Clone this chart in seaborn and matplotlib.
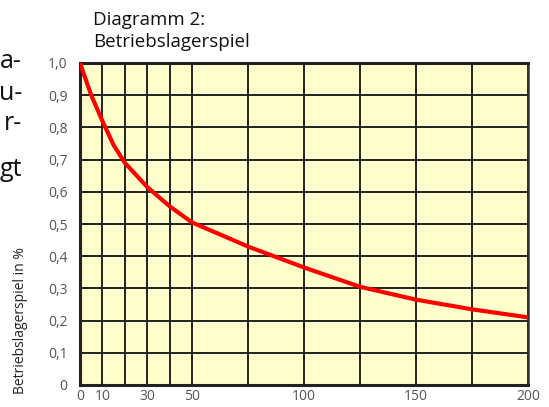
import matplotlib
matplotlib.use("Agg")
import matplotlib.pyplot as plt
import seaborn as sns
import pandas as pd

# === Data ===
betriebszeit = [0, 5, 10, 15, 20, 30, 40, 50, 75, 100, 125, 150, 175, 200]
lagerspiel = [1.0, 0.90, 0.82, 0.745, 0.69, 0.615, 0.555, 0.505, 0.43, 0.365, 0.305, 0.265, 0.235, 0.21]

x_ticks = [0, 10, 30, 50, 100, 150, 200]
x_grid = [0, 10, 20, 30, 40, 50, 75, 100, 125, 150, 175, 200]
y_ticks = [0, 0.1, 0.2, 0.3, 0.4, 0.5, 0.6, 0.7, 0.8, 0.9, 1.0]
y_labels = ["0", "0,1", "0,2", "0,3", "0,4", "0,5", "0,6", "0,7", "0,8", "0,9", "1,0"]

# text fragments from the neighbouring page column (cut off at the left edge)
fragments = ["a-", "u-", "r-", "gt"]
fragment_y = [62, 94, 123, 170]

df = pd.DataFrame({"x": betriebszeit, "y": lagerspiel})

sns.set_style("white")
plt.rcParams["font.family"] = ["Open Sans", "DejaVu Sans"]

fig = plt.figure(figsize=(5.49, 4.07), dpi=100)
ax = fig.add_axes([80 / 549, 22 / 407, 448 / 549, 322 / 407])
ax.set_facecolor("#FFFFCC")

# grid
for gx in x_grid:
    ax.axvline(gx, color="#222222", lw=1.4, zorder=1)
for gy in y_ticks:
    ax.axhline(gy, color="#222222", lw=1.4, zorder=1)

sns.lineplot(data=df, x="x", y="y", ax=ax, color="#FF0000", lw=3, zorder=3)

ax.set_xlim(0, 200)
ax.set_ylim(0, 1.0)
ax.set_xticks(x_ticks)
ax.set_xticklabels([str(t) for t in x_ticks])
ax.set_yticks(y_ticks)
ax.set_yticklabels(y_labels)
ax.tick_params(axis="both", length=0, labelsize=10, colors="#555555")
ax.tick_params(axis="y", pad=9)
ax.tick_params(axis="x", pad=3)
ax.set_xlabel("")
ax.set_ylabel("")

for side in ["left", "bottom", "top"]:
    ax.spines[side].set_color("#222222")
    ax.spines[side].set_linewidth(2.2)
ax.spines["right"].set_color("#333333")
ax.spines["right"].set_linewidth(1.8)

fig.text(21 / 549, 1 - 320 / 407, "Betriebslagerspiel in %", fontsize=10,
         color="#222222", rotation=90, ha="center", va="center")

fig.text(93 / 549, 1 - 31 / 407, "Diagramm 2:\nBetriebslagerspiel", fontsize=13.5,
         color="#111111", ha="left", va="center", linespacing=1.3)

for frag, fy in zip(fragments, fragment_y):
    fig.text(22 / 549, 1 - fy / 407, frag, fontsize=18,
             color="#111111", ha="right", va="center")

fig.savefig("out.png", dpi=100)
